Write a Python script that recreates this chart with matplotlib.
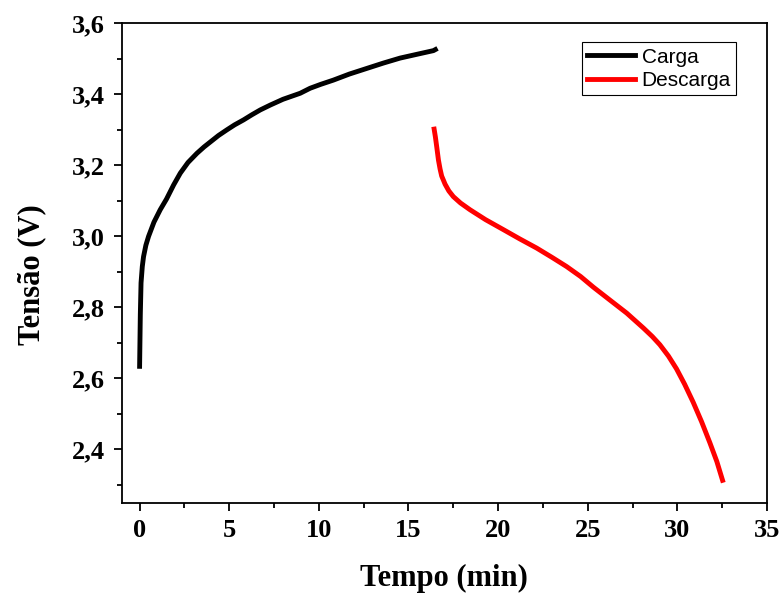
import matplotlib.pyplot as plt
from matplotlib.ticker import MultipleLocator, FuncFormatter

# Charge curve (Carga)
carga_t = [0.0, 0.04, 0.08, 0.15, 0.22, 0.35, 0.5, 0.8, 1.15, 1.5, 1.9, 2.27, 2.7, 3.2,
           3.6, 4.0, 4.4, 4.87, 5.3, 5.8, 6.25, 6.73, 7.3, 8.0, 8.96, 9.51, 10.1,
           10.81, 11.7, 12.68, 13.6, 14.53, 15.5, 16.39, 16.5]
carga_v = [2.634, 2.78, 2.869, 2.915, 2.943, 2.975, 3.0, 3.04, 3.075, 3.105, 3.145, 3.178,
           3.208, 3.234, 3.252, 3.268, 3.284, 3.30, 3.314, 3.328, 3.342, 3.356, 3.370,
           3.386, 3.403, 3.417, 3.428, 3.44, 3.457, 3.473, 3.488, 3.502, 3.513, 3.523, 3.526]

# Discharge curve (Descarga)
descarga_t = [16.43, 16.5, 16.58, 16.67, 16.76, 16.85, 16.95, 17.04, 17.25, 17.5, 17.9,
              18.43, 19.3, 20.29, 21.2, 22.15, 23.0, 23.82, 24.6, 25.31, 26.2, 27.17,
              28.1, 28.6, 29.02, 29.5, 29.95, 30.4, 30.88, 31.35, 31.81, 32.2, 32.52]
descarga_v = [3.302, 3.28, 3.25, 3.215, 3.19, 3.17, 3.158, 3.147, 3.128, 3.112, 3.094,
              3.075, 3.047, 3.019, 2.993, 2.967, 2.941, 2.915, 2.887, 2.857, 2.822, 2.784,
              2.742, 2.718, 2.695, 2.663, 2.627, 2.584, 2.533, 2.478, 2.419, 2.366, 2.313]

serif = ['Liberation Serif', 'DejaVu Serif']

fig = plt.figure(figsize=(7.83, 5.94), dpi=100)
ax = fig.add_axes([0.1554, 0.1537, 0.8242, 0.8071])

ax.plot(carga_t, carga_v, color='black', lw=3.5, label='Carga', solid_joinstyle='round')
ax.plot(descarga_t, descarga_v, color='red', lw=3.5, label='Descarga', solid_joinstyle='round')

ax.set_xlim(-1, 35)
ax.set_ylim(2.25, 3.6)

ax.xaxis.set_major_locator(MultipleLocator(5))
ax.xaxis.set_minor_locator(MultipleLocator(2.5))
ax.yaxis.set_major_locator(MultipleLocator(0.2))
ax.yaxis.set_minor_locator(MultipleLocator(0.1))
ax.yaxis.set_major_formatter(FuncFormatter(lambda v, p: f'{v:.1f}'.replace('.', ',')))

ax.tick_params(which='both', direction='out', top=False, right=False, width=1.3)
ax.tick_params(which='major', length=6, pad=6)
ax.tick_params(which='minor', length=3.5)
for lab in ax.get_xticklabels() + ax.get_yticklabels():
    lab.set_family(serif)
    lab.set_fontweight('bold')
    lab.set_fontsize(19)
for s in ax.spines.values():
    s.set_linewidth(1.3)

ax.set_xlabel('Tempo (min)', family=serif, fontweight='bold', fontsize=22)
ax.set_ylabel('Tensão (V)', family=serif, fontweight='bold', fontsize=22)
ax.xaxis.set_label_coords(0.5, -0.128)
ax.yaxis.set_label_coords(-0.117, 0.475)

leg = ax.legend(loc='upper right', bbox_to_anchor=(0.952, 0.96), fancybox=False,
                edgecolor='black', framealpha=1,
                prop={'family': ['Liberation Sans', 'DejaVu Sans'], 'size': 15},
                handlelength=2.3, borderpad=0.25, labelspacing=0.2, handletextpad=0.3,
                borderaxespad=0)
leg.get_frame().set_linewidth(0.8)

fig.savefig('out.png', dpi=100)
